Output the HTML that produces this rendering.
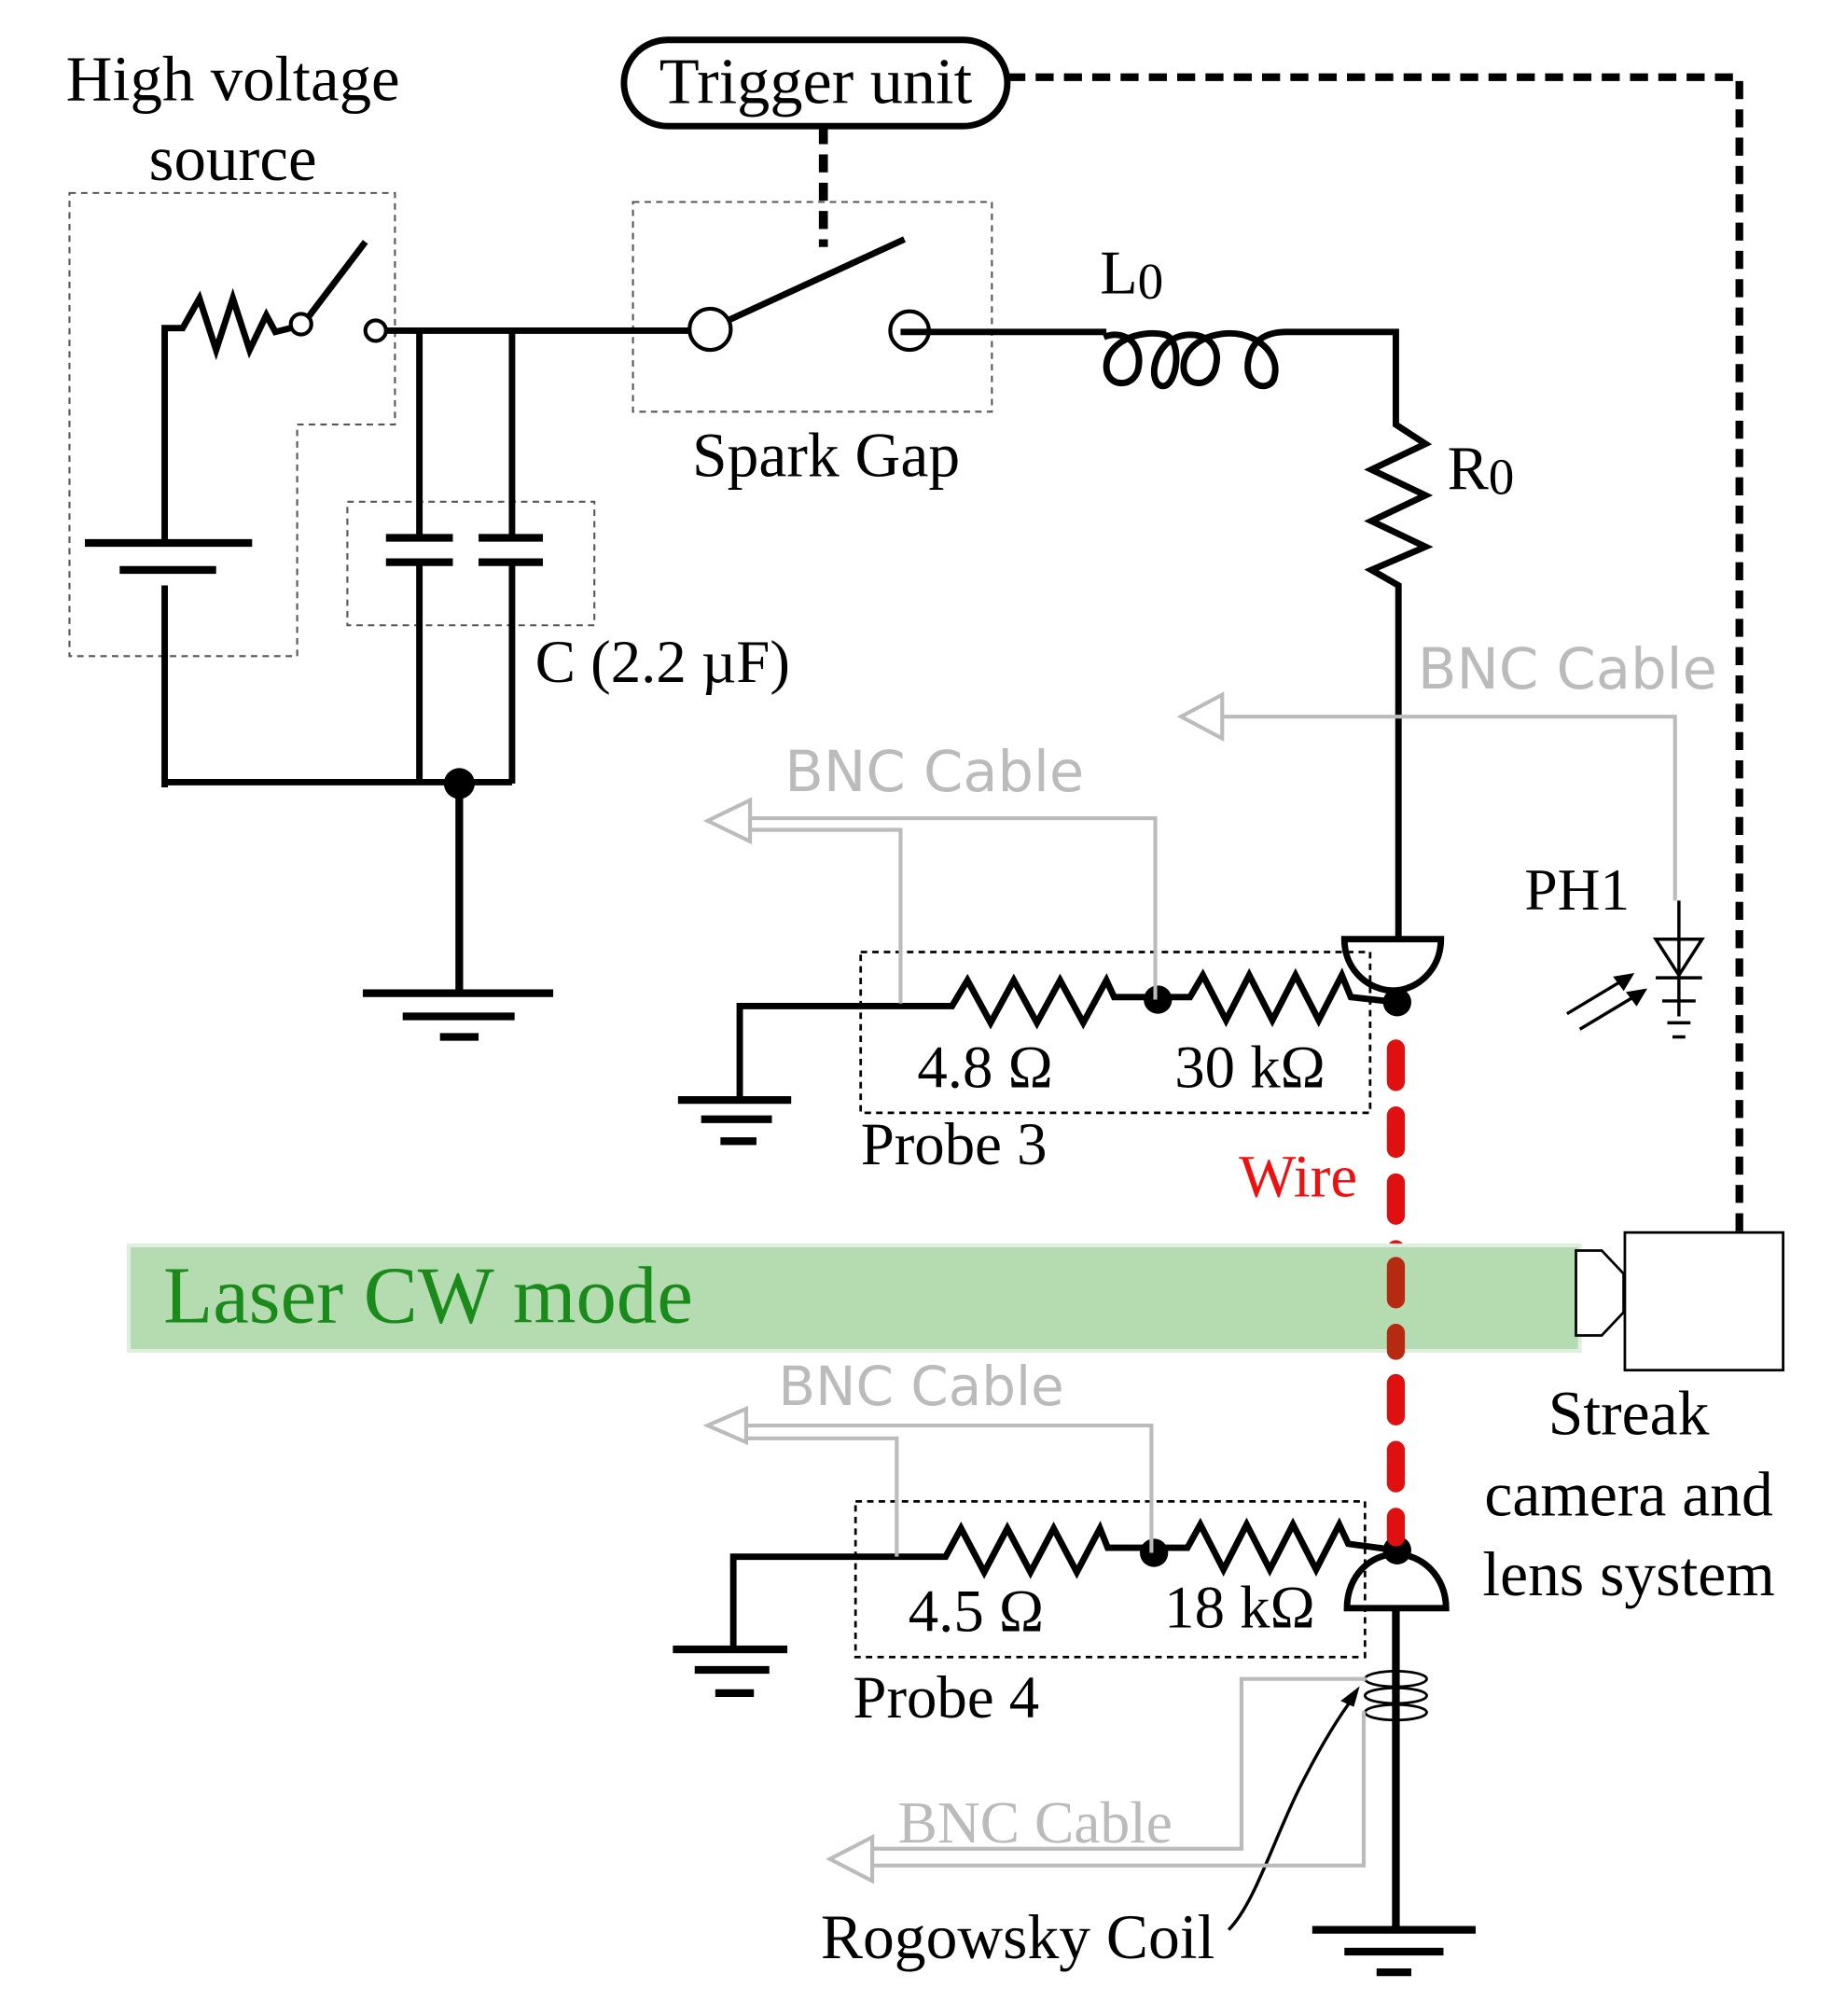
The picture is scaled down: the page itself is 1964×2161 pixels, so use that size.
<!DOCTYPE html>
<html><head><meta charset="utf-8"><style>
html,body{margin:0;padding:0;background:#fff}
svg{display:block}
.s{font-family:"Liberation Serif",serif;fill:#000}
.g{font-family:"DejaVu Sans","Liberation Sans",sans-serif;fill:#bbb}
</style></head><body>
<svg width="1964" height="2161" viewBox="0 0 1424 1567" preserveAspectRatio="none" xmlns="http://www.w3.org/2000/svg">
<g fill="none" stroke="#000" stroke-width="5" stroke-linejoin="miter">
<rect x="485" y="31" width="298" height="67" rx="34" stroke-width="5"/>
<path d="M783 60 H1352 V958" stroke-width="6" stroke-dasharray="14 8"/>
<path d="M640 98 V192" stroke-width="7" stroke-dasharray="14 8"/>
<g stroke="#555" stroke-width="1.5" stroke-dasharray="5 4">
<path d="M54 150 H307 V330 H231 V510 H54 Z"/>
<rect x="270" y="390" width="192" height="96"/>
<rect x="492" y="157" width="279" height="163"/>
<rect x="669" y="740" width="396" height="125" stroke="#000" stroke-width="2"/>
<rect x="665" y="1167" width="396" height="121" stroke="#000" stroke-width="2"/>
</g>
<path d="M66 422 H196 M93 443 H168" stroke-width="6"/>
<path d="M128 422 V255 H142 L155 232 L168 272 L181 232 L194 272 L207 245 L214 258 L226 255"/>
<circle cx="234" cy="252" r="8" stroke-width="3"/>
<path d="M240 246 L284 188"/>
<circle cx="292" cy="257" r="8" stroke-width="3"/>
<path d="M300 257 H537"/>
<path d="M128 455 V612 M128 608 H398"/>
<circle cx="357" cy="609" r="12" fill="#000" stroke="none"/>
<path d="M357 609 V772 M282 772 H430 M313 790 H400 M342 806 H372" stroke-width="6"/>
<path d="M326 257 V418 M398 257 V418 M326 437 V609 M398 437 V609"/>
<path d="M300 418 H352 M300 437 H352 M372 418 H422 M372 437 H422" stroke-width="6"/>
<circle cx="552" cy="256" r="16" stroke-width="3"/>
<path d="M566 249 L703 186"/>
<circle cx="707" cy="257" r="15" stroke-width="3"/>
<path d="M700 258 H860"/>
<path d="M858 262 C872 256 888 265 885 285 C883 302 860 302 860 285 C860 266 885 256 905 260 C920 264 915 302 903 300 C893 298 895 270 915 262 C932 256 950 265 945 285 C942 302 920 302 920 285 C920 266 945 256 965 260 C985 265 995 280 990 295 C985 305 968 300 970 282 C972 264 985 258 1000 258 H1085 V330 L1108 345 L1066 365 L1108 385 L1066 405 L1108 425 L1066 443 L1087 455 V730"/>
<path d="M1045 730 H1120 C1120 755 1100 770 1083 770 C1065 770 1045 755 1045 730 Z"/>
<circle cx="1086" cy="779" r="11" fill="#000" stroke="none"/>
<path d="M575 855 V782 H740 L752 762 L770 795 L788 762 L806 795 L824 762 L842 795 L860 762 L866 775 H925 L935 758 L953 793 L971 758 L989 793 L1007 758 L1025 793 L1043 758 L1050 775 L1086 779"/>
<circle cx="900" cy="777" r="11" fill="#000" stroke="none"/>
<path d="M527 855 H615 M545 870 H600 M560 887 H588" stroke-width="6"/>
<path d="M1047 1250 H1124 C1124 1225 1105 1208 1085 1208 C1065 1208 1047 1225 1047 1250 Z"/>
<circle cx="1086" cy="1205" r="11" fill="#000" stroke="none"/>
<path d="M570 1282 V1210 H735 L747 1188 L765 1222 L783 1188 L801 1222 L819 1188 L837 1222 L855 1188 L861 1203 H923 L933 1185 L951 1220 L969 1185 L987 1220 L1005 1185 L1023 1220 L1041 1185 L1048 1200 L1086 1205"/>
<circle cx="897" cy="1207" r="11" fill="#000" stroke="none"/>
<path d="M523 1282 H612 M540 1298 H598 M556 1316 H586" stroke-width="6"/>
<path d="M1085 1250 V1500 M1020 1500 H1147 M1045 1517 H1122 M1070 1533 H1097" stroke-width="6"/>
<g stroke-width="2"><ellipse cx="1085" cy="1305" rx="24" ry="6"/><ellipse cx="1085" cy="1318" rx="24" ry="6"/><ellipse cx="1085" cy="1331" rx="24" ry="6"/></g>
<path d="M955 1500 C975 1480 990 1430 1010 1390 C1025 1360 1040 1335 1053 1318" stroke-width="2.5"/>
<path d="M1056 1312 L1043 1322 L1052 1326 Z" fill="#000" stroke-width="1"/>
<g stroke="#bbb" stroke-width="3">
<path d="M1302 700 V557 H950"/><path d="M950 540 L918 557 L950 574 Z"/>
<path d="M898 777 V636 H583 M700 780 V645 H583"/><path d="M583 622 L550 638 L583 654 Z"/>
<path d="M895 1207 V1108 H580 M697 1210 V1118 H580"/><path d="M580 1095 L550 1108 L580 1121 Z"/>
<path d="M1062 1305 H965 V1437 H678 M1060 1330 V1450 H678"/><path d="M678 1428 L645 1445 L678 1462 Z"/>
</g>
<g stroke-width="2.5">
<path d="M1305 700 V790 M1287 730 H1323 L1305 758 Z M1287 760 H1323 M1292 778 H1318 M1296 795 H1314 M1300 806 H1310"/>
<path d="M1218 788 L1268 758 M1228 800 L1278 770"/>
<path d="M1268 758 L1256 760 L1262 768 Z M1278 770 L1266 772 L1272 780 Z" fill="#000"/>
</g>
<path d="M1085 815 V1195" stroke="#e01010" stroke-width="14" stroke-dasharray="26 26" stroke-linecap="round"/>
</g>
<rect x="100" y="968" width="1128" height="82" fill="#b5dbb0" stroke="#e0eee0" stroke-width="3"/>
<path d="M1085 968 V1050" stroke="#b52a10" stroke-width="14" stroke-dasharray="26 26" stroke-dashoffset="-16" stroke-linecap="round" fill="none"/>
<path d="M1225 972 H1245 L1262 990 V1020 L1245 1038 H1225 Z" fill="#fff" stroke="#000" stroke-width="2"/>
<rect x="1263" y="958" width="123" height="107" fill="#fff" stroke="#000" stroke-width="2"/>
<text class="s" x="181" y="78" font-size="50" text-anchor="middle">High voltage</text>
<text class="s" x="181" y="140" font-size="50" text-anchor="middle">source</text>
<text class="s" x="634" y="80" font-size="51" text-anchor="middle">Trigger unit</text>
<text class="s" x="416" y="530" font-size="47">C (2.2 µF)</text>
<text class="s" x="538" y="370" font-size="49">Spark Gap</text>
<text class="s" x="855" y="228" font-size="48">L<tspan font-size="40" dy="4">0</tspan></text>
<text class="s" x="1125" y="380" font-size="48">R<tspan font-size="40" dy="4">0</tspan></text>
<text class="g" x="1102" y="535" font-size="44">BNC Cable</text>
<text class="g" x="610" y="615" font-size="44">BNC Cable</text>
<text class="g" x="605" y="1092" font-size="42">BNC Cable</text>
<text class="g" x="698" y="1432" font-size="46" style="font-family:'Liberation Serif',serif">BNC Cable</text>
<text class="s" x="1185" y="707" font-size="46">PH1</text>
<text class="s" x="713" y="845" font-size="47">4.8 Ω</text>
<text class="s" x="913" y="845" font-size="47">30 kΩ</text>
<text class="s" x="669" y="905" font-size="47">Probe 3</text>
<text class="s" x="963" y="930" font-size="47" style="fill:#f01010">Wire</text>
<text x="127" y="1028" font-size="63" style="font-family:'Liberation Serif',serif;fill:#1a8a1a">Laser CW mode</text>
<text class="s" x="1266" y="1115" font-size="49" text-anchor="middle">Streak</text>
<text class="s" x="1266" y="1178" font-size="49" text-anchor="middle">camera and</text>
<text class="s" x="1266" y="1240" font-size="49" text-anchor="middle">lens system</text>
<text class="s" x="706" y="1268" font-size="47">4.5 Ω</text>
<text class="s" x="905" y="1265" font-size="47">18 kΩ</text>
<text class="s" x="663" y="1335" font-size="47">Probe 4</text>
<text class="s" x="638" y="1522" font-size="49">Rogowsky Coil</text>
</svg>
</body></html>
